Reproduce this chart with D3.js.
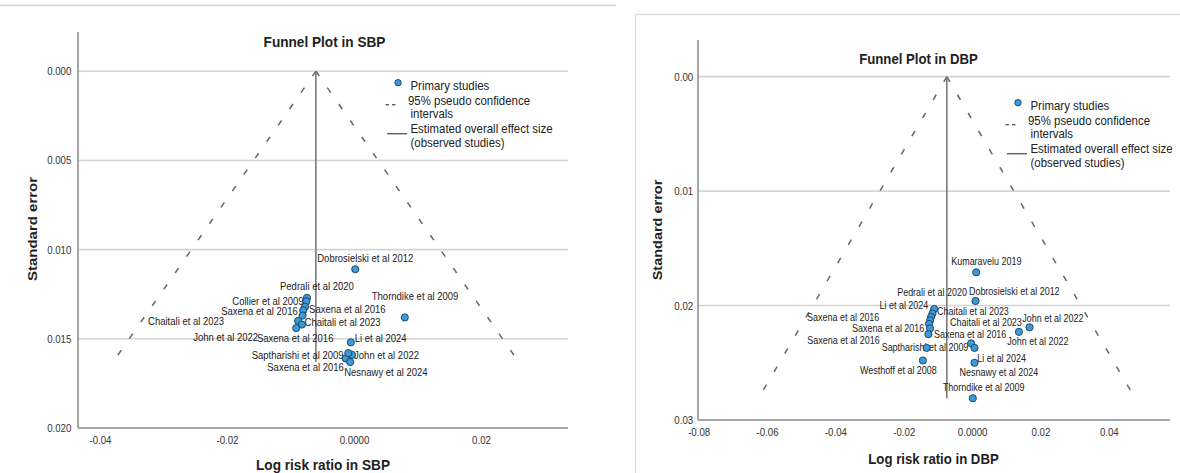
<!DOCTYPE html>
<html><head><meta charset="utf-8">
<script src="https://cdn.jsdelivr.net/npm/d3@7"></script>
<style>
body{margin:0;background:#fff;}
svg{display:block;font-family:Arial,"Liberation Sans",sans-serif;}
</style>
</head><body>
<svg id="c" width="1180" height="473"></svg>
<script>
// ---------- DATA: SBP ----------
const sbpStudies = ["Dobrosielski et al 2012","Thorndike et al 2009","Pedrali et al 2020","Collier et al 2009","Saxena et al 2016","Saxena et al 2016","Chaitali et al 2023","Chaitali et al 2023","Saxena et al 2016","John et al 2022","Li et al 2024","John et al 2022","Saptharishi et al 2009","Saxena et al 2016","Nesnawy et al 2024"];
const sbpLogRR = [0.0002, 0.0080, -0.0074, -0.0075, -0.0077, -0.0080, -0.0081, -0.0088, -0.0082, -0.0091, -0.0005, -0.0003, -0.0013, -0.0009, -0.0006];
const sbpSE    = [0.0111, 0.0138, 0.0127, 0.0129, 0.0132, 0.0134, 0.0137, 0.0140, 0.0142, 0.0144, 0.0152, 0.0159, 0.0161, 0.0158, 0.0163];
const sbpPooled = -0.0060;
const sbpYTicks = [0, 0.005, 0.010, 0.015, 0.020];
const sbpYTickLabels = ["0.000","0.005","0.010","0.015","0.020"];
const sbpXTicks = [-0.04, -0.02, 0, 0.02];
const sbpXTickLabels = ["-0.04","-0.02","0.0000","0.02"];

// ---------- DATA: DBP ----------
const dbpStudies = ["Kumaravelu 2019","Dobrosielski et al 2012","Pedrali et al 2020","Li et al  2024","Chaitali et al 2023","Saxena et al 2016","Saxena et al 2016","Saxena et al 2016","Saxena et al 2016","Saptharishi et al 2009","Chaitali et al 2023","John et al 2022","John et al 2022","Li et al 2024","Nesnawy et al 2024","Westhoff et al 2008","Thorndike et al 2009"];
const dbpLogRR = [0.0012, 0.0010, -0.0111, -0.0116, -0.0120, -0.0123, -0.0126, -0.0123, -0.0128, -0.0133, -0.0003, 0.0168, 0.0137, 0.0007, 0.0007, -0.0144, 0.0002];
const dbpSE    = [0.0171, 0.0196, 0.0203, 0.0207, 0.0210, 0.0213, 0.0216, 0.0220, 0.0225, 0.0237, 0.0233, 0.0219, 0.0223, 0.0250, 0.0237, 0.0248, 0.0281];
const dbpPooled = -0.0074;
const dbpYTicks = [0, 0.01, 0.02, 0.03];
const dbpYTickLabels = ["0.00","0.01","0.02","0.03"];
const dbpXTicks = [-0.08, -0.06, -0.04, -0.02, 0, 0.02, 0.04];
const dbpXTickLabels = ["-0.08","-0.06","-0.04","-0.02","0.0000","0.02","0.04"];

const legendItems = ["Primary studies","95% pseudo confidence","intervals","Estimated overall effect size","(observed studies)"];

// ---------- label placement (px offsets, layout only) ----------
const sbpLabelDx = [-38, -33, -27, -74, 4, -82, 2, -150, -45, -103, 4, 2, -94, -81, -6];
const sbpLabelDy = [-11, -21, -12, 0, 3, 1, 7, 0, 13.5, 9.4, -4, 0, -3, 14.5, 10.5];
const dbpLabelDx = [-25, -6.6, -37, -53, 6, -123, -77, 4, -121, -45, -21, -7.3, -11.7, 2.7, -15, -63, -30];
const dbpLabelDy = [-11.3, -9.3, -16.3, -8.3, -6, -3.3, 5, 5.7, 6.7, 0, -20.6, -9, 9.7, -4.4, 24.4, 10, -11];

const SQ = 0.88; // horizontal squeeze of text as in the reference
const svg = d3.select("#c");

// frame decorations
svg.append("line").attr("x1",0).attr("x2",616).attr("y1",5.5).attr("y2",5.5)
  .attr("stroke","#d0d0d0").attr("stroke-width",1.5);
svg.append("path").attr("d","M635.5,473V14.5H1180").attr("fill","none")
  .attr("stroke","#dedede").attr("stroke-width",1.5);

function sqText(g, x, y, txt, size, anchor, weight){
  return g.append("text")
    .attr("transform",`translate(${x},${y}) scale(${SQ},1)`)
    .attr("text-anchor",anchor||"start")
    .attr("dy","0.35em")
    .attr("font-size",size)
    .attr("font-weight",weight||"normal")
    .attr("fill","#222")
    .text(txt);
}

function drawFunnel(cfg){
  const g = svg.append("g");
  const x = d3.scaleLinear().domain(cfg.xDomain).range([cfg.left, cfg.right]);
  const y = d3.scaleLinear().domain(cfg.yDomain).range([cfg.top, cfg.bottom]);

  // gridlines
  g.selectAll(".grid").data(cfg.yTicks.slice(0,-1)).join("line")
    .attr("x1",cfg.left).attr("x2",cfg.right)
    .attr("y1",d=>y(d)).attr("y2",d=>y(d))
    .attr("stroke","#d4d4d4").attr("stroke-width",1.6);

  // axes
  const ya = g.append("g").attr("transform",`translate(${cfg.left},0)`)
    .call(d3.axisLeft(y).tickValues(cfg.yTicks).tickFormat((d,i)=>cfg.yTickLabels[i]).tickSize(0).tickPadding(cfg.yPad));
  const xa = g.append("g").attr("transform",`translate(0,${y(cfg.yTicks[cfg.yTicks.length-1])})`)
    .call(d3.axisBottom(x).tickValues(cfg.xTicks).tickFormat((d,i)=>cfg.xTickLabels[i]).tickSize(0).tickPadding(8));
  [ya,xa].forEach(a=>{
    a.select(".domain").remove();
    a.selectAll("text").attr("font-size",cfg.tickSize).attr("fill","#333")
      .attr("font-family","Arial, 'Liberation Sans', sans-serif")
      .attr("transform",`scale(${SQ},1)`);
  });
  g.append("line").attr("x1",cfg.left).attr("x2",cfg.left)
    .attr("y1",cfg.top).attr("y2",y(cfg.yTicks[cfg.yTicks.length-1]))
    .attr("stroke","#a6a6a6").attr("stroke-width",2);
  g.append("line").attr("x1",cfg.left).attr("x2",cfg.right)
    .attr("y1",y(cfg.yTicks[cfg.yTicks.length-1])).attr("y2",y(cfg.yTicks[cfg.yTicks.length-1]))
    .attr("stroke","#a6a6a6").attr("stroke-width",2);

  // funnel
  const maxSE = d3.max(cfg.se);
  const z = 1.96;
  g.append("line").attr("x1",x(cfg.pooled)).attr("y1",y(0))
    .attr("x2",x(cfg.pooled - z*maxSE)).attr("y2",y(maxSE))
    .attr("stroke","#666").attr("stroke-width",1.5).attr("stroke-dasharray",cfg.dash);
  g.append("line").attr("x1",x(cfg.pooled)).attr("y1",y(0))
    .attr("x2",x(cfg.pooled + z*maxSE)).attr("y2",y(maxSE))
    .attr("stroke","#666").attr("stroke-width",1.5).attr("stroke-dasharray",cfg.dash);
  g.append("line").attr("x1",x(cfg.pooled)).attr("x2",x(cfg.pooled))
    .attr("y1",y(0)).attr("y2",y(maxSE))
    .attr("stroke","#7a7a7a").attr("stroke-width",1.6);

  // labels
  cfg.studies.forEach((s,i)=>{
    sqText(g, x(cfg.est[i])+cfg.dx[i], y(cfg.se[i])+cfg.dy[i], s, cfg.labelSize);
  });
  // points
  g.selectAll(".pt").data(cfg.est).join("circle")
    .attr("cx",d=>x(d)).attr("cy",(d,i)=>y(cfg.se[i])).attr("r",3.6)
    .attr("fill","#3b9ad8").attr("stroke","#1d3b58").attr("stroke-width",0.9);

  // titles
  sqText(g, cfg.titleX, cfg.titleY, cfg.title, cfg.titleSize, "middle", "bold");
  sqText(g, cfg.xTitleX, cfg.xTitleY, cfg.xTitle, cfg.titleSize, "middle", "bold");
  g.append("text")
    .attr("transform",`translate(${cfg.yTitleX},${cfg.yTitleY}) rotate(-90) scale(1,${SQ})`)
    .attr("text-anchor","middle").attr("dy","0.35em")
    .attr("font-size",cfg.yTitleSize).attr("font-weight","bold").attr("fill","#222")
    .text("Standard error");

  // legend
  const lx = cfg.legX, ly = cfg.legY;
  g.append("circle").attr("cx",lx).attr("cy",ly).attr("r",3.2)
    .attr("fill","#3b9ad8").attr("stroke","#1d3b58").attr("stroke-width",0.9);
  const rows = [2.5, 17.7, 31, 45.5, 59.6];
  legendItems.forEach((t,i)=>{
    sqText(g, lx + (i===1 ? 10 : 12.5), ly + rows[i], t, 13);
  });
  g.append("line").attr("x1",lx-12.5).attr("x2",lx-9).attr("y1",ly+22).attr("y2",ly+22)
    .attr("stroke","#555").attr("stroke-width",1.3);
  g.append("line").attr("x1",lx-6).attr("x2",lx-2.5).attr("y1",ly+22).attr("y2",ly+22)
    .attr("stroke","#555").attr("stroke-width",1.3);
  g.append("line").attr("x1",lx-11).attr("x2",lx+9).attr("y1",ly+51).attr("y2",ly+51)
    .attr("stroke","#555").attr("stroke-width",1.3);
}

drawFunnel({
  studies: sbpStudies, est: sbpLogRR, se: sbpSE, pooled: sbpPooled,
  yTicks: sbpYTicks, yTickLabels: sbpYTickLabels, xTicks: sbpXTicks, xTickLabels: sbpXTickLabels,
  dx: sbpLabelDx, dy: sbpLabelDy,
  xDomain: [-0.04346, 0.0337], left: 78, right: 568,
  yDomain: [-0.0022, 0.020], top: 32, bottom: 428,
  yPad: 7.5, tickSize: 11, labelSize: 10.8, dash: "6,14",
  title: "Funnel Plot in SBP", titleX: 324.5, titleY: 42, titleSize: 15.5,
  xTitle: "Log risk ratio in SBP", xTitleX: 323, xTitleY: 465,
  yTitleX: 32, yTitleY: 229, yTitleSize: 15,
  legX: 398, legY: 82.7
});

drawFunnel({
  studies: dbpStudies, est: dbpLogRR, se: dbpSE, pooled: dbpPooled,
  yTicks: dbpYTicks, yTickLabels: dbpYTickLabels, xTicks: dbpXTicks, xTickLabels: dbpXTickLabels,
  dx: dbpLabelDx, dy: dbpLabelDy,
  xDomain: [-0.0802, 0.0579], left: 698, right: 1170,
  yDomain: [-0.0032, 0.030], top: 40, bottom: 420,
  yPad: 5.5, tickSize: 11, labelSize: 10.2, dash: "6,15",
  title: "Funnel Plot in DBP", titleX: 918.5, titleY: 58.3, titleSize: 15,
  xTitle: "Log risk ratio in DBP", xTitleX: 933.5, xTitleY: 458.3,
  yTitleX: 658, yTitleY: 230, yTitleSize: 14.5,
  legX: 1018, legY: 102.7
});
</script>
</body></html>
